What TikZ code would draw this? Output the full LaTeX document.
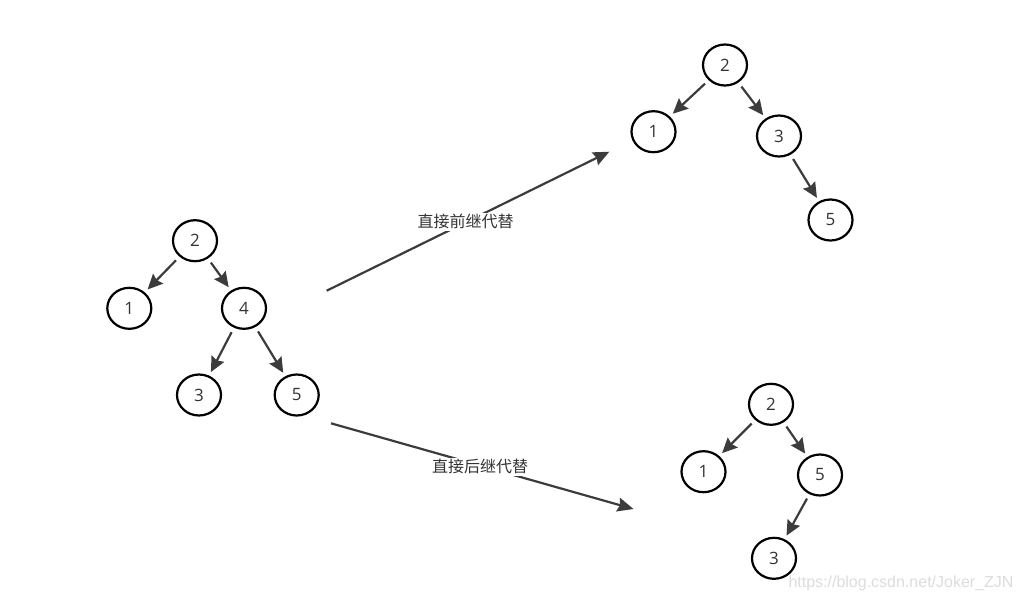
\documentclass[tikz,border=0pt]{standalone}
\usepackage{fontspec}
\setmainfont{Open Sans}
\newfontfamily\cjk{Noto Sans CJK SC}
\newfontfamily\wmfont{Liberation Sans}
\usetikzlibrary{arrows.meta,shapes.geometric}
\definecolor{edgecol}{HTML}{3C3C3C}
\definecolor{wmcol}{HTML}{DCDCDC}
\definecolor{txtcol}{HTML}{333333}
\tikzset{
 tnode/.style={ellipse, draw=black, line width=2.2pt, minimum width=44pt, minimum height=41pt, inner sep=0pt, font=\fontsize{17}{17}\selectfont, text=txtcol},
 tedge/.style={draw=edgecol, line width=2.2pt, -{Stealth[length=15pt,width=14pt,inset=2pt]}, shorten <=5pt, shorten >=4pt},
 bigedge/.style={draw=edgecol, line width=2.2pt, -{Stealth[length=16pt,width=14pt,inset=2pt]}},
 lbl/.style={fill=white, inner sep=1.5pt, font=\cjk\fontsize{16}{16}\selectfont, text=txtcol}
}
\begin{document}
\begin{tikzpicture}[x=1pt,y=-1pt]
\useasboundingbox (0,0) rectangle (1022,603);
% left tree
\node[tnode] (L2) at (195,240.7) {2};
\node[tnode] (L1) at (129.3,308.3) {1};
\node[tnode] (L4) at (244,308.3) {4};
\node[tnode] (L3) at (199,395) {3};
\node[tnode] (L5) at (296.7,395) {5};
\draw[tedge] (L2) -- (L1);
\draw[tedge] (L2) -- (L4);
\draw[tedge] (L4) -- (L3);
\draw[tedge] (L4) -- (L5);
% top-right tree
\node[tnode] (A2) at (725,65) {2};
\node[tnode] (A1) at (653.5,131.7) {1};
\node[tnode] (A3) at (779,136) {3};
\node[tnode] (A5) at (830.5,220) {5};
\draw[tedge] (A2) -- (A1);
\draw[tedge] (A2) -- (A3);
\draw[tedge] (A3) -- (A5);
% bottom-right tree
\node[tnode] (B2) at (771,404.3) {2};
\node[tnode] (B1) at (703.5,471.7) {1};
\node[tnode] (B5) at (820,475) {5};
\node[tnode] (B3) at (774,558.3) {3};
\draw[tedge] (B2) -- (B1);
\draw[tedge] (B2) -- (B5);
\draw[tedge] (B5) -- (B3);
% big arrows
\coordinate (s1) at (326.7,290.7);
\coordinate (e1) at (609.3,151.7);
\coordinate (s2) at (331,423.3);
\coordinate (e2) at (633.5,509);
\draw[bigedge] (s1) -- (e1);
\draw[bigedge] (s2) -- (e2);
\node[lbl] (t1) at (465.7,221.7) {直接前继代替};
\node[lbl] (t2) at (480,466.7) {直接后继代替};
% watermark
\node[font=\wmfont\fontsize{16}{16}\selectfont, text=wmcol, inner sep=0pt] (wm) at (901,583.5) {https://blog.csdn.net/Joker\_ZJN};
\end{tikzpicture}
\end{document}
